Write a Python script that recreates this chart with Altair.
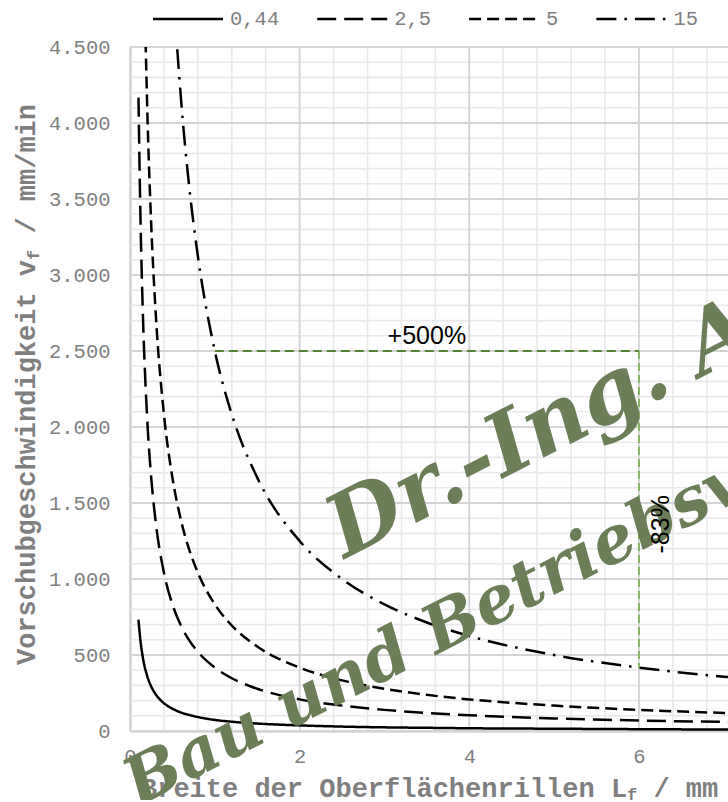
import altair as alt
import pandas as pd
import numpy as np

# Rillenbreite L_f in mm (Stützstellen der Kurven)
breite = [0.1, 0.12, 0.15, 0.2, 0.25, 0.3, 0.4, 0.5, 0.6, 0.7, 0.8, 1.0, 1.2,
          1.5, 2.0, 2.5, 3.0, 3.5, 4.0, 5.0, 6.0, 7.0, 7.5]

# Vorschubgeschwindigkeit v_f in mm/min je Kurve
v_044 = [733, 611, 489, 367, 293, 244, 183, 147, 122, 105, 92, 73, 61,
         49, 37, 29, 24, 21, 18, 15, 12, 10, 10]
v_25 = [4167, 3472, 2778, 2083, 1667, 1389, 1042, 833, 694, 595, 521, 417, 347,
        278, 208, 167, 139, 119, 104, 83, 69, 60, 56]
v_5 = [8333, 6944, 5556, 4167, 3333, 2778, 2083, 1667, 1389, 1190, 1042, 833, 694,
       556, 417, 333, 278, 238, 208, 167, 139, 119, 111]
v_15 = [25000, 20833, 16667, 12500, 10000, 8333, 6250, 5000, 4167, 3571, 3125, 2500, 2083,
        1667, 1250, 1000, 833, 714, 625, 500, 417, 357, 333]

serien = ["0,44", "2,5", "5", "15"]
werte = [v_044, v_25, v_5, v_15]
striche = [[1, 0], [19, 8], [12, 6], [20, 8, 2.5, 8]]

# Vergleichspunkte der Kurve "15"
vergleich_L = [1.0, 6.0]
vergleich_v = [2500, 417]
text_plus = "+500%"
text_minus = "-83%"

# Achsenteilung
x_haupt = [0, 2, 4, 6]
x_neben = list(np.round(np.arange(0.4, 7.05, 0.4), 2))
y_haupt = list(range(0, 4501, 500))
y_neben = list(range(100, 4500, 100))

rows = []
for name, ys in zip(serien, werte):
    for L, v in zip(breite, ys):
        rows.append({"serie": name, "L": L, "v": v})
df = pd.DataFrame(rows)

GRAU = "#7f7f7f"
MONO = "Liberation Mono"

xs = alt.Scale(domain=[0, 7.05], nice=False, zero=False)
ys_ = alt.Scale(domain=[0, 4500], nice=False)

ax_x = alt.Axis(values=x_haupt, title=None, labelFont=MONO, labelFontSize=20.5,
                labelColor=GRAU, labelPadding=15, ticks=False, grid=False,
                domainColor="#bfbfbf", domainWidth=2, labelFlush=False)
ax_y = alt.Axis(values=y_haupt, title=None, labelFont=MONO, labelFontSize=20.5,
                labelColor=GRAU, labelPadding=20, ticks=False, grid=False,
                domainColor="#bfbfbf", domainWidth=2, labelFlush=False,
                labelExpr="replace(format(datum.value, ','), ',', '.')")

grid_xn = alt.Chart(pd.DataFrame({"g": x_neben})).mark_rule(
    color="#e9e9e9", strokeWidth=1.6).encode(x=alt.X("g:Q", scale=xs, axis=ax_x))
grid_yn = alt.Chart(pd.DataFrame({"g": y_neben})).mark_rule(
    color="#e9e9e9", strokeWidth=1.6).encode(y=alt.Y("g:Q", scale=ys_, axis=ax_y))
grid_xh = alt.Chart(pd.DataFrame({"g": x_haupt})).mark_rule(
    color="#d4d4d4", strokeWidth=1.8).encode(x=alt.X("g:Q", scale=xs, axis=ax_x))
grid_yh = alt.Chart(pd.DataFrame({"g": y_haupt})).mark_rule(
    color="#d4d4d4", strokeWidth=1.8).encode(y=alt.Y("g:Q", scale=ys_, axis=ax_y))

kurven = alt.Chart(df).mark_line(
    clip=True, strokeWidth=2.5, color="black", interpolate="monotone"
).encode(
    x=alt.X("L:Q", scale=xs, axis=ax_x),
    y=alt.Y("v:Q", scale=ys_, axis=ax_y),
    strokeDash=alt.StrokeDash("serie:N", scale=alt.Scale(domain=serien, range=striche),
                              legend=None),
    order="L:Q",
)

df_h = pd.DataFrame({"x1": [vergleich_L[0]], "x2": [vergleich_L[1]], "y": [vergleich_v[0]]})
df_v = pd.DataFrame({"x": [vergleich_L[1]], "y1": [vergleich_v[0]], "y2": [vergleich_v[1]]})

linie_h = alt.Chart(df_h).mark_rule(color="#548235", strokeWidth=2, strokeDash=[9, 5]).encode(
    x=alt.X("x1:Q", scale=xs, axis=ax_x), x2="x2:Q", y=alt.Y("y:Q", scale=ys_, axis=ax_y))
linie_v = alt.Chart(df_v).mark_rule(color="#70ad47", strokeWidth=1.6, strokeDash=[8, 4]).encode(
    x=alt.X("x:Q", scale=xs, axis=ax_x), y=alt.Y("y1:Q", scale=ys_, axis=ax_y), y2="y2:Q")

lab_plus = alt.Chart(pd.DataFrame({
    "x": [(vergleich_L[0] + vergleich_L[1]) / 2], "y": [vergleich_v[0]], "t": [text_plus]
})).mark_text(font="Liberation Sans", fontSize=25, color="black", align="center",
              baseline="alphabetic", dy=-7).encode(
    x=alt.X("x:Q", scale=xs, axis=ax_x), y=alt.Y("y:Q", scale=ys_, axis=ax_y), text="t:N")

lab_minus = alt.Chart(pd.DataFrame({
    "x": [vergleich_L[1]], "y": [1360], "t": [text_minus]
})).mark_text(font="Liberation Sans", fontSize=25, color="black", align="center",
              baseline="middle", angle=270, dy=22).encode(
    x=alt.X("x:Q", scale=xs, axis=ax_x), y=alt.Y("y:Q", scale=ys_, axis=ax_y), text="t:N")


def txt(s, x, y, size, angle=0, weight="bold", font=MONO, color=GRAU, style="normal",
        baseline="alphabetic"):
    return alt.Chart(pd.DataFrame({"t": [s]})).mark_text(
        x=x, y=y, fontSize=size, font=font, fontWeight=weight, color=color,
        align="left", baseline=baseline, angle=angle, fontStyle=style
    ).encode(text="t:N")


# Legende oberhalb der Zeichenfläche: Linienmuster + Beschriftung
LEG_FS = 20.5
leg_len, leg_off, leg_gap, leg_y = 70, 7, 38, -28
legende = []
pos = 23
for name, dash in zip(serien, striche):
    legende.append(
        alt.Chart(pd.DataFrame({"t": [name]})).mark_rule(
            color="black", strokeWidth=2.5, strokeDash=dash
        ).encode(x=alt.value(pos), x2=alt.value(pos + leg_len), y=alt.value(leg_y))
    )
    legende.append(txt(name, pos + leg_len + leg_off, leg_y, LEG_FS, weight="normal",
                       baseline="middle"))
    pos += leg_len + leg_off + 0.6 * LEG_FS * len(name) + leg_gap

# Achsentitel mit tiefgestelltem Index
FS = 27
ADV = 0.6 * FS
SUB = 17
x0, yb = 11, 750
x_titel = [
    txt("Breite der Oberflächenrillen L", x0, yb, FS),
    txt("f", x0 + 30 * ADV, yb + 3, SUB),
    txt("/ mm", x0 + 30 * ADV + 0.6 * SUB + ADV, yb, FS),
]
xb, y0 = -95, 618
y_titel = [
    txt("Vorschubgeschwindigkeit v", xb, y0, FS, angle=270),
    txt("f", xb + 4, y0 - 25 * ADV, SUB, angle=270),
    txt("/ mm/min", xb, y0 - 25 * ADV - 0.6 * SUB - ADV, FS, angle=270),
]

# Schriftzug
GRUEN = "#6c7e57"
WFONT = "DejaVu Serif"
schrift = [
    txt("Dr.-Ing. A", 215, 512, 86, angle=333, font=WFONT, color=GRUEN, style="italic"),
    txt("Bau und Betriebsvo", 8, 760, 66, angle=333, font=WFONT, color=GRUEN, style="italic"),
]

chart = alt.layer(
    grid_xn, grid_yn, grid_xh, grid_yh, kurven, linie_h, linie_v,
    *legende, *x_titel, *y_titel, *schrift, lab_plus, lab_minus
).properties(
    width=598, height=684,
    autosize=alt.AutoSizeParams(type="none"),
    padding={"left": 130, "top": 47, "right": 0, "bottom": 69},
).configure_view(stroke=None).configure(background="white")

chart.save("out.html", embed_options={"renderer": "svg", "actions": False})
